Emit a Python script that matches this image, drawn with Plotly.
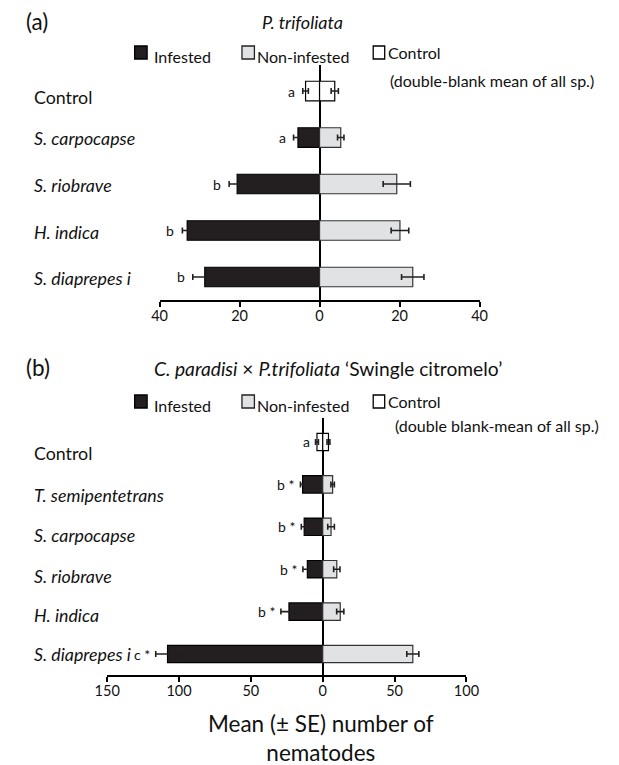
import plotly.graph_objects as go

W, H = 619, 765
FONT = "Lato"

# ---------------- data ----------------
cats_a = ["Control", "S. carpocapse", "S. riobrave", "H. indica", "S. diaprepes i"]
species_a = cats_a[1:]
inf_a = [5.4, 20.6, 33.1, 28.7]
inf_se_a = [1.1, 2.0, 1.2, 3.0]
non_a = [5.3, 19.3, 20.1, 23.3]
non_se_a = [0.8, 3.4, 2.2, 2.8]
ctrl_a = [3.5, 3.8]          # infested side, non-infested side
ctrl_se_a = [0.7, 0.9]
letters_a = ["a", "a", "b", "b", "b"]
ticks_a = [-40, -20, 0, 20, 40]
ticklabels_a = ["40", "20", "0", "20", "40"]

cats_b = ["Control", "T. semipentetrans", "S. carpocapse", "S. riobrave", "H. indica", "S. diaprepes i"]
species_b = cats_b[1:]
inf_b = [14.0, 12.9, 10.7, 23.5, 108.0]
inf_se_b = [1.5, 2.0, 3.1, 5.6, 8.2]
non_b = [6.9, 5.8, 9.8, 12.2, 62.7]
non_se_b = [1.2, 2.3, 2.2, 2.5, 4.2]
ctrl_b = [4.0, 4.0]
ctrl_se_b = [1.0, 1.0]
letters_b = ["a", "b *", "b *", "b *", "b *", "c *"]
ticks_b = [-150, -100, -50, 0, 50, 100]
ticklabels_b = ["150", "100", "50", "0", "50", "100"]

# ---------------- style ----------------
INF_COL = "#231f20"
NON_COL = "#e1e2e3"
EB_COL = "#231f20"
TXT = "#111111"


def px_x(p):
    return p / W


def px_y(p):
    return 1 - p / H


fig = go.Figure()


def add_panel(xa, ya, cats, species, inf, inf_se, non, non_se, ctrl, ctrl_se, bw):
    eb = dict(type="data", thickness=1.6, width=3, color=EB_COL)
    fig.add_trace(go.Bar(y=species, x=[-v for v in inf], orientation="h", width=bw,
                         marker=dict(color=INF_COL, line=dict(color="#000000", width=1.2)),
                         error_x=dict(array=inf_se, **eb), xaxis=xa, yaxis=ya, showlegend=False))
    fig.add_trace(go.Bar(y=species, x=non, orientation="h", width=bw,
                         marker=dict(color=NON_COL, line=dict(color="#333333", width=1.2)),
                         error_x=dict(array=non_se, **eb), xaxis=xa, yaxis=ya, showlegend=False))
    fig.add_trace(go.Bar(y=[cats[0]], x=[-ctrl[0]], orientation="h", width=bw,
                         marker=dict(color="white", line=dict(color="#000000", width=1.2)),
                         error_x=dict(array=[ctrl_se[0]], **eb), xaxis=xa, yaxis=ya, showlegend=False))
    fig.add_trace(go.Bar(y=[cats[0]], x=[ctrl[1]], orientation="h", width=bw,
                         marker=dict(color="white", line=dict(color="#000000", width=1.2)),
                         error_x=dict(array=[ctrl_se[1]], **eb), xaxis=xa, yaxis=ya, showlegend=False))


add_panel("x", "y", cats_a, species_a, inf_a, inf_se_a, non_a, non_se_a, ctrl_a, ctrl_se_a, 0.42)
add_panel("x2", "y2", cats_b, species_b, inf_b, inf_se_b, non_b, non_se_b, ctrl_b, ctrl_se_b, 0.41)

axis_common = dict(showgrid=False, showline=True, linecolor="#000000", linewidth=1.6,
                   ticks="outside", ticklen=5, tickwidth=1.6, tickcolor="#000000",
                   ticklabelstandoff=-3,
                   zeroline=True, zerolinecolor="#000000", zerolinewidth=1.6,
                   tickfont=dict(family=FONT, size=14.5, color=TXT))
yaxis_common = dict(showgrid=False, showline=False, zeroline=False, showticklabels=False,
                    ticks="", type="category")

fig.update_layout(
    width=W, height=H,
    margin=dict(l=0, r=0, t=0, b=0),
    paper_bgcolor="white", plot_bgcolor="white",
    barmode="overlay",
    font=dict(family=FONT, color=TXT),
    xaxis=dict(domain=[px_x(153), px_x(487)], range=[-40, 40], anchor="y",
               tickvals=ticks_a, ticktext=ticklabels_a, **axis_common),
    yaxis=dict(domain=[px_y(300), px_y(65)], range=[4.495, -0.56], anchor="x",
               categoryorder="array", categoryarray=cats_a, **yaxis_common),
    xaxis2=dict(domain=[px_x(98.3), px_x(473.3)], range=[-150, 100], anchor="y2",
                tickvals=ticks_b, ticktext=ticklabels_b, **axis_common),
    yaxis2=dict(domain=[px_y(675), px_y(418)], range=[5.495, -0.566], anchor="x2",
                categoryorder="array", categoryarray=cats_b, **yaxis_common),
)

ann = []
shapes = []


def label_text(c):
    return c if c == "Control" else "<i>" + c + "</i>"


# category labels (left aligned)
label_y_a = [97, 138, 185, 232, 278]
for c, yy in zip(cats_a, label_y_a):
    ann.append(dict(x=px_x(20), y=px_y(yy), xref="paper", yref="paper", text=label_text(c),
                    xanchor="left", yanchor="middle", showarrow=False,
                    font=dict(family=FONT, size=17.8, color=TXT)))
label_y_b = [453, 495, 535, 576, 615, 654]
for c, yy in zip(cats_b, label_y_b):
    ann.append(dict(x=px_x(20), y=px_y(yy), xref="paper", yref="paper", text=label_text(c),
                    xanchor="left", yanchor="middle", showarrow=False,
                    font=dict(family=FONT, size=17.8, color=TXT)))

# significance letters
all_inf_a = [ctrl_a[0]] + inf_a
all_se_a = [ctrl_se_a[0]] + inf_se_a
for c, v, s, t in zip(cats_a, all_inf_a, all_se_a, letters_a):
    ann.append(dict(x=-(v + s), y=c, xref="x", yref="y", text=t, xanchor="right", yanchor="middle",
                    xshift=-6, showarrow=False, font=dict(family=FONT, size=14, color=TXT)))
all_inf_b = [ctrl_b[0]] + inf_b
all_se_b = [ctrl_se_b[0]] + inf_se_b
for c, v, s, t in zip(cats_b, all_inf_b, all_se_b, letters_b):
    ann.append(dict(x=-(v + s), y=c, xref="x2", yref="y2", text=t, xanchor="right", yanchor="middle",
                    xshift=-4, showarrow=False, font=dict(family=FONT, size=14, color=TXT)))

# panel titles
ann.append(dict(x=px_x(12), y=px_y(21), xref="paper", yref="paper", text="(a)", xanchor="left",
                yanchor="middle", showarrow=False, font=dict(family=FONT, size=22.5, color=TXT)))
ann.append(dict(x=px_x(302), y=px_y(22), xref="paper", yref="paper", text="<i>P. trifoliata</i>",
                xanchor="center", yanchor="middle", showarrow=False,
                font=dict(family=FONT, size=18, color=TXT)))
ann.append(dict(x=px_x(12), y=px_y(367), xref="paper", yref="paper", text="(b)", xanchor="left",
                yanchor="middle", showarrow=False, font=dict(family=FONT, size=22.5, color=TXT)))
ann.append(dict(x=px_x(145), y=px_y(368), xref="paper", yref="paper",
                text="<i>C. paradisi</i> × <i>P.trifoliata</i> ‘Swingle citromelo’",
                xanchor="left", yanchor="middle", showarrow=False,
                font=dict(family=FONT, size=19.2, color=TXT)))


def legend(y_sq, y_txt, y_ctrl, y_sub, sub_text, sub_x):
    items = [(127, 140, INF_COL, "#000000", 145, "Infested", y_txt),
             (239, 252, NON_COL, "#222222", 253, "Non-infested", y_txt),
             (376, 388, "white", "#000000", 389, "Control", y_ctrl)]
    for x0, x1, fc, lc, tx, t, ty in items:
        shapes.append(dict(type="rect", xref="paper", yref="paper",
                           x0=px_x(x0), x1=px_x(x1), y0=px_y(y_sq + 13), y1=px_y(y_sq),
                           fillcolor=fc, line=dict(color=lc, width=1.3)))
        ann.append(dict(x=px_x(tx), y=px_y(ty), xref="paper", yref="paper", text=t, xanchor="left",
                        yanchor="middle", showarrow=False, font=dict(family=FONT, size=16, color=TXT)))
    ann.append(dict(x=px_x(sub_x), y=px_y(y_sub), xref="paper", yref="paper", text=sub_text,
                    xanchor="left", yanchor="middle", showarrow=False,
                    font=dict(family=FONT, size=16, color=TXT)))


legend(46, 57, 53, 81, "(double-blank mean of all sp.)", 391)
legend(395, 405, 401, 425, "(double blank-mean of all sp.)", 397)

# x-axis title of panel (b)
ann.append(dict(x=px_x(322), y=px_y(738), xref="paper", yref="paper",
                text="Mean (± SE) number of<br>nematodes", xanchor="center", yanchor="middle",
                showarrow=False, font=dict(family=FONT, size=22.5, color=TXT)))

fig.update_layout(annotations=ann, shapes=shapes)
fig.write_html("out.html", config={"displayModeBar": False},
               post_script="document.body.style.margin='0';document.body.style.padding='0';"
                           "document.body.style.overflow='hidden';")
